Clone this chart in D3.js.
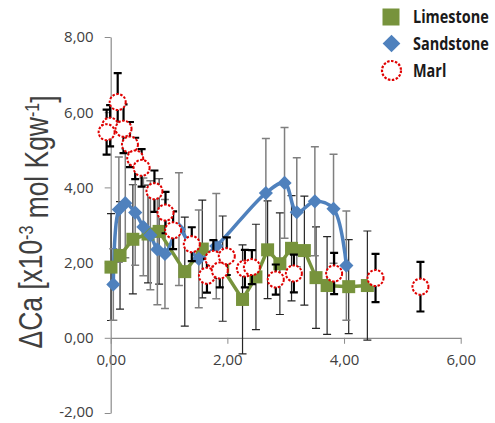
<!DOCTYPE html>
<html>
<head>
<meta charset="utf-8">
<script src="https://cdn.jsdelivr.net/npm/d3@7"></script>
<style>
  body { margin: 0; background: #fff; }
  svg { display: block; }
</style>
</head>
<body>
<svg id="chart" width="495" height="423"></svg>
<script>
// Data
let limestoneX = [0.005, 0.16, 0.38, 0.64, 0.83, 1.27, 1.57, 1.92, 2.26, 2.49, 2.69, 2.90, 3.10, 3.32, 3.52, 3.71, 4.08, 4.40]
let limestoneY = [1.88, 2.19, 2.62, 2.76, 2.83, 1.76, 2.36, 1.84, 1.02, 1.62, 2.34, 1.97, 2.38, 2.32, 1.60, 1.39, 1.36, 1.39]
let limestoneErr = [1.42, 1.43, 1.45, 1.3, 1.4, 1.45, 1.3, 1.4, 1.45, 1.4, 1.3, 1.35, 1.4, 1.45, 1.35, 1.3, 1.25, 1.45]

let sandstoneX = [0.045, 0.14, 0.25, 0.42, 0.56, 0.68, 0.80, 0.93, 1.17, 1.51, 1.81, 2.66, 2.98, 3.19, 3.50, 3.82, 4.04]
let sandstoneY = [1.42, 3.41, 3.58, 3.33, 2.95, 2.73, 2.35, 2.23, 2.89, 2.10, 2.44, 3.85, 4.12, 3.34, 3.63, 3.43, 1.92]
let sandstoneErr = [0.95, 1.4, 1.45, 1.4, 1.3, 1.45, 1.47, 1.45, 1.5, 1.3, 1.4, 1.45, 1.47, 1.45, 1.45, 1.45, 1.45]

let marlX = [0.12, -0.01, -0.07, 0.22, 0.33, 0.42, 0.53, 0.75, 0.94, 1.07, 1.39, 1.65, 1.76, 1.87, 1.99, 2.30, 2.42, 2.83, 3.14, 3.83, 4.54, 5.31]
let marlY = [6.27, 5.64, 5.47, 5.56, 5.14, 4.77, 4.52, 3.90, 3.33, 2.86, 2.49, 1.65, 2.10, 1.79, 2.17, 1.84, 1.88, 1.55, 1.71, 1.71, 1.59, 1.36]
let marlErr = [0.77, 0.55, 0.6, 0.65, 0.6, 0.55, 0.5, 0.55, 0.55, 0.5, 0.45, 0.45, 0.5, 0.45, 0.5, 0.5, 0.45, 0.4, 0.5, 0.55, 0.64, 0.66]

let xTicks = [0, 2, 4, 6]
let yTicks = [-2, 0, 2, 4, 6, 8]
let legendNames = ["Limestone", "Sandstone", "Marl"]

// Helpers
let zip = (xs, ys, es) => xs.map((x, i) => ({x: x, y: ys[i], e: es[i]}))
let locale = d3.formatLocale({decimal: ",", thousands: ".", grouping: [3], currency: ["", ""], minus: "-"})
let fmt = locale.format(".2f")

let limestone = zip(limestoneX, limestoneY, limestoneErr)
let sandstone = zip(sandstoneX, sandstoneY, sandstoneErr)
let marl = zip(marlX, marlY, marlErr)

let svg = d3.select("#chart")
let x = d3.scaleLinear().domain([0, 6]).range([110.7, 460.7])
let y = d3.scaleLinear().domain([-2, 8]).range([413, 37])

let axisColor = "#8c8c8c"
let font = "'Open Sans', 'Noto Sans', sans-serif"

// Axes
let gx = svg.append("g")
  .attr("transform", `translate(0,${y(0)})`)
  .call(d3.axisBottom(x).tickValues(xTicks).tickFormat(fmt).tickSize(6).tickSizeOuter(0).tickPadding(11))
let gy = svg.append("g")
  .attr("transform", `translate(${x(0)},0)`)
  .call(d3.axisLeft(y).tickValues(yTicks).tickFormat(fmt).tickSize(6).tickSizeOuter(0).tickPadding(11))

for (let g of [gx, gy]) {
  g.select(".domain").attr("stroke", axisColor).attr("stroke-width", 1.2)
  g.selectAll(".tick line").attr("stroke", axisColor)
  g.selectAll(".tick text").attr("fill", "#404040").style("font-family", font).style("font-size", "15px")
}
gy.selectAll(".tick text").filter(d => d === -2).attr("dy", "0.2em")

// Y title
let title = svg.append("text")
  .attr("transform", "translate(42,222) rotate(-90) scale(0.8,1)")
  .attr("text-anchor", "middle")
  .attr("fill", "#404040")
  .style("font-family", "'Liberation Sans', Arial, sans-serif")
  .style("font-size", "33px")
title.append("tspan").text("ΔCa [x10")
title.append("tspan").attr("dy", "-0.45em").style("font-size", "20px").text("-3")
title.append("tspan").attr("dy", "0.45em").text(" mol Kgw")
title.append("tspan").attr("dy", "-0.45em").style("font-size", "20px").text("-1")
title.append("tspan").attr("dy", "0.45em").text("]")

// Error bars
let drawBars = (data, color, width, cap) => {
  let g = svg.append("g").attr("stroke", color).attr("stroke-width", width).attr("fill", "none")
  g.selectAll("path").data(data).join("path")
    .attr("d", d => {
      let px = x(d.x), top = y(d.y + d.e), bot = y(d.y - d.e)
      return `M${px},${top}V${bot}M${px - cap},${top}H${px + cap}M${px - cap},${bot}H${px + cap}`
    })
}

drawBars(limestone, "#262626", 1.2, 4)
drawBars(sandstone, "#7f7f7f", 1.5, 4)

let greenLine = "#77933c"
let blue = "#4f81bd"

svg.append("path")
  .attr("d", d3.line().x(d => x(d.x)).y(d => y(d.y))(limestone))
  .attr("fill", "none").attr("stroke", greenLine).attr("stroke-width", 3.5)

svg.append("path")
  .attr("d", d3.line().x(d => x(d.x)).y(d => y(d.y)).curve(d3.curveCatmullRom.alpha(0.5))(sandstone))
  .attr("fill", "none").attr("stroke", blue).attr("stroke-width", 3.5)

let sq = d3.symbol().type(d3.symbolSquare).size(13 * 13)
let dia = d3.symbol().type(d3.symbolDiamond2).size(2 * 8 * 8)

svg.append("g").selectAll("path").data(limestone).join("path")
  .attr("transform", d => `translate(${x(d.x)},${y(d.y)})`)
  .attr("d", sq).attr("fill", greenLine)

svg.append("g").selectAll("path").data(sandstone).join("path")
  .attr("transform", d => `translate(${x(d.x)},${y(d.y)})`)
  .attr("d", dia).attr("fill", blue)

drawBars(marl, "#000", 2.2, 4)

svg.append("g").selectAll("circle").data(marl).join("circle")
  .attr("cx", d => x(d.x)).attr("cy", d => y(d.y)).attr("r", 8)
  .attr("fill", "#fff").attr("stroke", "#e00000").attr("stroke-width", 2)
  .attr("stroke-dasharray", "2.5,1.5")

// Legend
let leg = svg.append("g")
let legY = [17, 43.5, 70.5]
leg.append("rect").attr("x", 382.5).attr("y", legY[0] - 8.5).attr("width", 17).attr("height", 17).attr("fill", greenLine)
leg.append("path").attr("transform", `translate(391.5,${legY[1]})`)
  .attr("d", d3.symbol().type(d3.symbolDiamond2).size(2 * 10 * 10)).attr("fill", blue)
leg.append("circle").attr("cx", 391.5).attr("cy", legY[2]).attr("r", 9.5)
  .attr("fill", "#fff").attr("stroke", "#e00000").attr("stroke-width", 2.2).attr("stroke-dasharray", "2.5,1.5")
leg.append("g").attr("transform", "translate(413,0) scale(0.85,1)")
  .selectAll("text").data(legendNames).join("text")
  .attr("x", 0).attr("y", (d, i) => legY[i]).attr("dy", "0.36em")
  .attr("fill", "#1a1a1a")
  .style("font-family", font).style("font-size", "17px").style("font-weight", "bold")
  .text(d => d)
</script>
</body>
</html>
